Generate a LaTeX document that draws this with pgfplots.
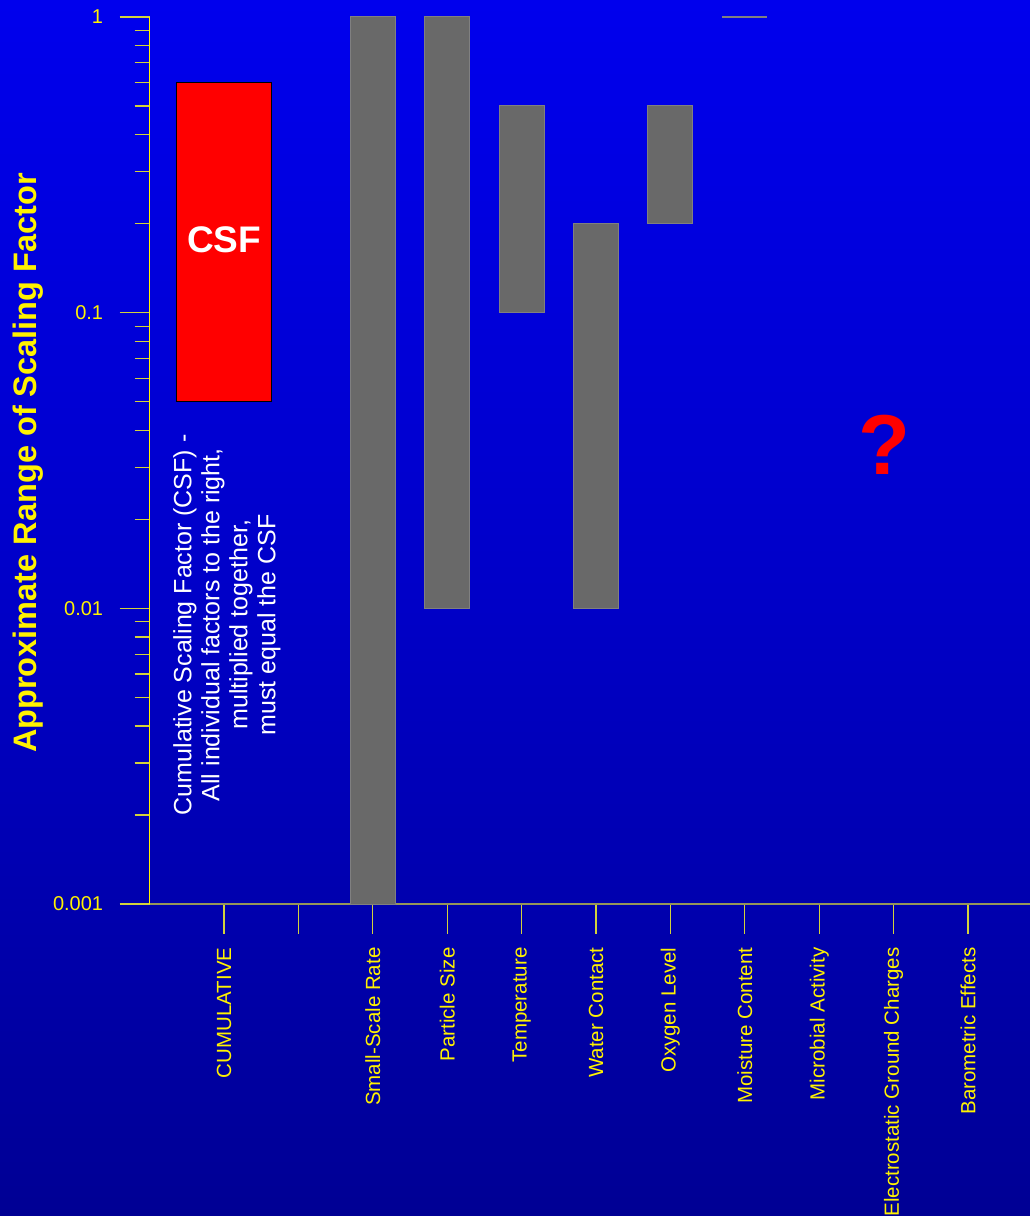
\documentclass[border=0pt]{standalone}
\usepackage{fontspec}
\setmainfont{Liberation Sans}
\usepackage{pgfplots}
\pgfplotsset{compat=1.18}
\definecolor{barfill}{RGB}{105,105,105}
\definecolor{baredge}{RGB}{128,128,128}
\definecolor{axolive}{RGB}{150,150,90}
\definecolor{ticky}{RGB}{210,210,60}
\pgfdeclareverticalshading{bgshade}{100bp}{rgb(0bp)=(0,0,0.44); rgb(25bp)=(0,0,0.58); rgb(50bp)=(0,0,0.78); rgb(75bp)=(0,0,0.93); rgb(100bp)=(0,0,1)}
\begin{document}
\begin{tikzpicture}[x=1bp,y=1bp]
\shade[shading=bgshade] (0,0) rectangle (1030,1216);
\begin{axis}[
  at={(149.6bp,312bp)}, anchor=south west,
  scale only axis, width=892.8bp, height=887bp,
  xmin=0, xmax=12, ymin=0.001, ymax=1, ymode=log,
  clip=false,
  axis x line*=bottom, axis y line*=left,
  x axis line style={-, draw=axolive, line width=1.5bp},
  y axis line style={-, draw=yellow, line width=1.2bp},
  tick align=outside,
  major tick length=30bp, minor tick length=15bp,
  every tick/.style={ticky, line width=1.2bp},
  xtick={1,2,3,4,5,6,7,8,9,10,11},
  xticklabels={CUMULATIVE,{},Small-Scale Rate,Particle Size,Temperature,Water Contact,Oxygen Level,Moisture Content,Microbial Activity,Electrostatic Ground Charges,Barometric Effects},
  ytick={0.001,0.01,0.1,1},
  yticklabels={0.001,0.01,0.1,1},
  xticklabel style={rotate=90, anchor=east, xshift=-10bp, text=yellow, font={\fontsize{20.5bp}{24bp}\selectfont}},
  yticklabel style={anchor=east, xshift=-13bp, text=yellow, font={\fontsize{20bp}{24bp}\selectfont}},
]
% cumulative
\addplot[fill=red, draw=black, line width=1bp] coordinates {(0.355,0.05) (1.645,0.05) (1.645,0.6) (0.355,0.6)} -- cycle;
% Small-Scale Rate
\addplot[fill=barfill, draw=baredge, line width=1bp] coordinates {(2.698,0.001) (3.302,0.001) (3.302,1) (2.698,1)} -- cycle;
% Particle Size
\addplot[fill=barfill, draw=baredge, line width=1bp] coordinates {(3.698,0.01) (4.302,0.01) (4.302,1) (3.698,1)} -- cycle;
% Temperature
\addplot[fill=barfill, draw=baredge, line width=1bp] coordinates {(4.698,0.1) (5.302,0.1) (5.302,0.5) (4.698,0.5)} -- cycle;
% Water Contact
\addplot[fill=barfill, draw=baredge, line width=1bp] coordinates {(5.698,0.01) (6.302,0.01) (6.302,0.2) (5.698,0.2)} -- cycle;
% Oxygen Level
\addplot[fill=barfill, draw=baredge, line width=1bp] coordinates {(6.698,0.2) (7.302,0.2) (7.302,0.5) (6.698,0.5)} -- cycle;
% Moisture Content
\addplot[draw=baredge, line width=1.5bp] coordinates {(7.698,1) (8.302,1)};
\node[text=white, font={\fontsize{37bp}{40bp}\selectfont\bfseries}] at (axis cs:1,0.176) {CSF};
\node[text=white, rotate=90, align=center, font={\fontsize{25bp}{28bp}\selectfont}] at (axis cs:1.04,0.0088) {Cumulative Scaling Factor (CSF) -\\All individual factors to the right,\\multiplied together,\\must equal the CSF};
\node[text=red, font={\fontsize{85bp}{90bp}\selectfont\bfseries}] at (axis cs:9.88,0.0357) {?};
\end{axis}
\node[rotate=90, text=yellow, font={\fontsize{32.5bp}{36bp}\selectfont\bfseries}] at (28,753) {Approximate Range of Scaling Factor};
\pgfresetboundingbox
\path[use as bounding box] (0,0) rectangle (1030,1216);
\end{tikzpicture}
\end{document}
